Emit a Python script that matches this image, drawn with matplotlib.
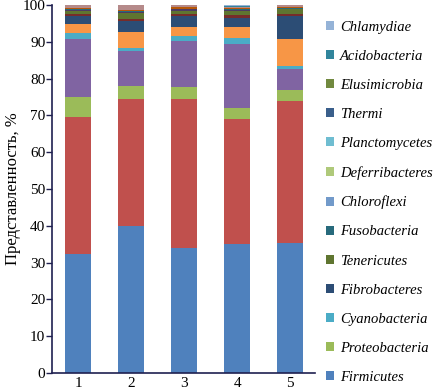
import matplotlib
matplotlib.use("Agg")
import matplotlib.pyplot as plt
import numpy as np

# ---------------------------------------------------------------------------
# Data: relative abundance (%) per sample, stacked bottom -> top
# Series whose names start with "_" are drawn but left out of the legend.
# ---------------------------------------------------------------------------
samples = ["1", "2", "3", "4", "5"]

firmicutes      = [32.3, 40.0, 34.0, 35.0, 35.4]
bacteroidetes   = [37.2, 34.5, 40.4, 34.0, 38.6]
proteobacteria  = [5.4, 3.5, 3.2, 2.9, 3.0]
grp_purple      = [15.9, 9.4, 12.6, 17.5, 5.5]
cyanobacteria   = [1.5, 0.9, 1.3, 1.6, 1.0]
grp_orange      = [2.5, 4.5, 2.6, 3.1, 7.2]
fibrobacteres   = [2.3, 2.8, 2.8, 2.5, 6.3]
grp_darkred     = [0.4, 0.6, 0.6, 0.8, 0.5]
tenericutes     = [0.9, 1.7, 1.0, 1.0, 1.3]
grp_darkpurple  = [0.3, 0.3, 0.3, 0.3, 0.2]
fusobacteria    = [0.2, 0.2, 0.2, 0.2, 0.2]
grp_brown       = [0.2, 0.2, 0.4, 0.2, 0.2]
chloroflexi     = [0.1, 0.1, 0.1, 0.1, 0.1]
grp_mauve       = [0.7, 1.2, 0.4, 0.2, 0.4]
deferribacteres = [0.05, 0.05, 0.05, 0.05, 0.05]
planctomycetes  = [0.05, 0.05, 0.05, 0.05, 0.05]
thermi          = [0.05, 0.05, 0.05, 0.05, 0.05]
elusimicrobia   = [0.05, 0.05, 0.05, 0.05, 0.05]
acidobacteria   = [0.05, 0.05, 0.05, 0.05, 0.05]
chlamydiae      = [0.1, 0.1, 0.1, 0.6, 0.1]

series = [
    ("Firmicutes", firmicutes, "#4F81BD"),
    ("_bacteroidetes", bacteroidetes, "#C0504D"),
    ("Proteobacteria", proteobacteria, "#9BBB59"),
    ("_purple", grp_purple, "#8064A2"),
    ("Cyanobacteria", cyanobacteria, "#4BACC6"),
    ("_orange", grp_orange, "#F79646"),
    ("Fibrobacteres", fibrobacteres, "#2C4D75"),
    ("_darkred", grp_darkred, "#772C2A"),
    ("Tenericutes", tenericutes, "#5F7530"),
    ("_darkpurple", grp_darkpurple, "#4D3B62"),
    ("Fusobacteria", fusobacteria, "#276A7C"),
    ("_brown", grp_brown, "#B65708"),
    ("Chloroflexi", chloroflexi, "#729ACA"),
    ("_mauve", grp_mauve, "#B58A8A"),
    ("Deferribacteres", deferribacteres, "#AFC97A"),
    ("Planctomycetes", planctomycetes, "#6FBDD1"),
    ("Thermi", thermi, "#3A5F8B"),
    ("Elusimicrobia", elusimicrobia, "#71893F"),
    ("Acidobacteria", acidobacteria, "#31859C"),
    ("Chlamydiae", chlamydiae, "#95B3D7"),
]

plt.rcParams["font.family"] = ["Liberation Serif", "DejaVu Serif"]

fig = plt.figure(figsize=(4.35, 3.89), dpi=100)
ax = fig.add_axes([0.12, 0.041, 0.604, 0.946])

x = np.arange(1, len(samples) + 1)
bottom = np.zeros(len(samples))
handles = []
for name, vals, color in series:
    vals = np.array(vals)
    bars = ax.bar(x, vals, width=0.49, bottom=bottom, color=color, label=name,
                  linewidth=0)
    bottom += vals
    if not name.startswith("_"):
        handles.append((bars, name))

ax.set_xlim(0.51, 5.47)
ax.set_ylim(0, 100)
ax.set_yticks(range(0, 101, 10))
ax.set_xticks(x)
ax.set_xticklabels(samples)
ax.tick_params(axis="x", length=0, labelsize=11, pad=3)
ax.tick_params(axis="y", length=4, width=1, labelsize=11, pad=1,
               color="#1F2050")
for side in ("top", "right"):
    ax.spines[side].set_visible(False)
for side in ("left", "bottom"):
    ax.spines[side].set_color("#1F2050")
    ax.spines[side].set_linewidth(1.2)
ax.set_ylabel("Представленность, %", fontsize=12, labelpad=1)

handles = handles[::-1]
leg = fig.legend([h for h, _ in handles], [n for _, n in handles],
                 loc="upper left", bbox_to_anchor=(0.735, 0.962),
                 frameon=False, prop={"style": "italic", "size": 10.5},
                 handlelength=0.6, handleheight=0.6, handletextpad=0.4,
                 labelspacing=1.1, borderaxespad=0)

fig.savefig("out.png", dpi=100)
